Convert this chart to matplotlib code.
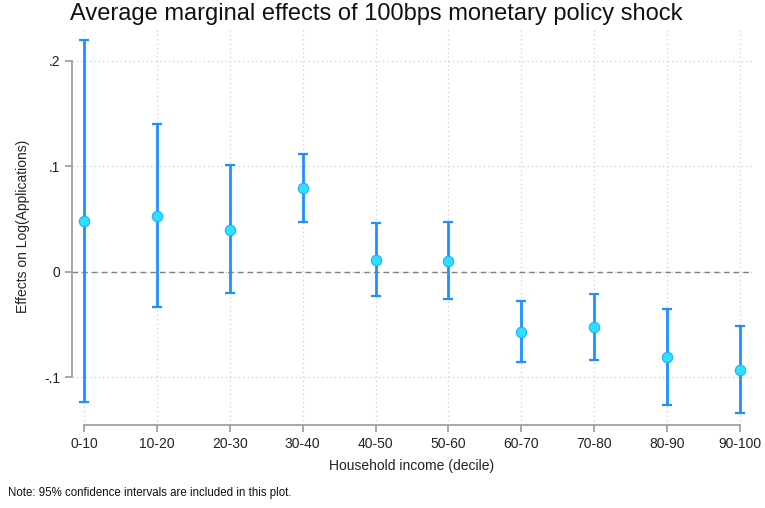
import numpy as np
from matplotlib import pyplot as plt

plt.rcParams["font.family"] = ["Liberation Sans", "DejaVu Sans"]

# household income deciles and estimated effects with 95% CI
deciles = ["0-10", "10-20", "20-30", "30-40", "40-50", "50-60", "60-70", "70-80", "80-90", "90-100"]
effect = [0.048, 0.053, 0.040, 0.079, 0.011, 0.010, -0.057, -0.052, -0.081, -0.093]
ci_low = [-0.123, -0.033, -0.020, 0.047, -0.023, -0.026, -0.085, -0.083, -0.126, -0.134]
ci_high = [0.220, 0.140, 0.101, 0.112, 0.046, 0.047, -0.028, -0.021, -0.035, -0.051]
yticks = [-0.1, 0, 0.1, 0.2]
ytick_labels = ["-.1", "0", ".1", ".2"]

fig = plt.figure(figsize=(7.65, 5.08), dpi=100)
ax = fig.add_axes([0.0941, 0.1634, 0.983 - 0.0941, 0.945 - 0.1634])

x = np.arange(len(deciles))
eff = np.array(effect)
lo = np.array(ci_low)
hi = np.array(ci_high)

ax.axhline(0, color="#808080", lw=1, ls=(0, (4, 3)), zorder=1)
ax.errorbar(x, eff, yerr=[eff - lo, hi - eff], fmt="none", ecolor="#1e90ff",
            elinewidth=2, capsize=3.5, capthick=1.6, zorder=2)
ax.plot(x, eff, "o", ms=7.5, mfc="#2ee0ff", mec="#1eb0ff", mew=0.8, zorder=3)

ax.set_xlim(-0.165, 9.165)
ax.set_ylim(-0.145, 0.231)
ax.set_xticks(x)
ax.set_xticklabels(deciles)
ax.set_yticks(yticks)
ax.set_yticklabels(ytick_labels)

ax.grid(True, color="#cfcfcf", ls=(0, (1, 2.5)), lw=0.9)
ax.set_axisbelow(True)
for s in ["top", "right"]:
    ax.spines[s].set_visible(False)
ax.spines["left"].set_bounds(-0.1, 0.2)
ax.spines["bottom"].set_bounds(0, 9)
for s in ["left", "bottom"]:
    ax.spines[s].set_color("#a0a0a0")
    ax.spines[s].set_linewidth(1.3)
ax.tick_params(colors="#a0a0a0", labelcolor="#222222", labelsize=10, length=5, width=1.3)

ax.set_xlabel("Household income (decile)", fontsize=10, color="#222222", labelpad=6)
ax.set_ylabel("Effects on Log(Applications)", fontsize=10, color="#222222", labelpad=10)
fig.text(376 / 765, 1 - 14 / 508, "Average marginal effects of 100bps monetary policy shock",
         ha="center", va="center", fontsize=17, color="#111111")
fig.text(8 / 765, 1 - 493 / 508, "Note: 95% confidence intervals are included in this plot.",
         ha="left", va="center", fontsize=8.3, color="#111111")

fig.savefig("out.png", dpi=100)
